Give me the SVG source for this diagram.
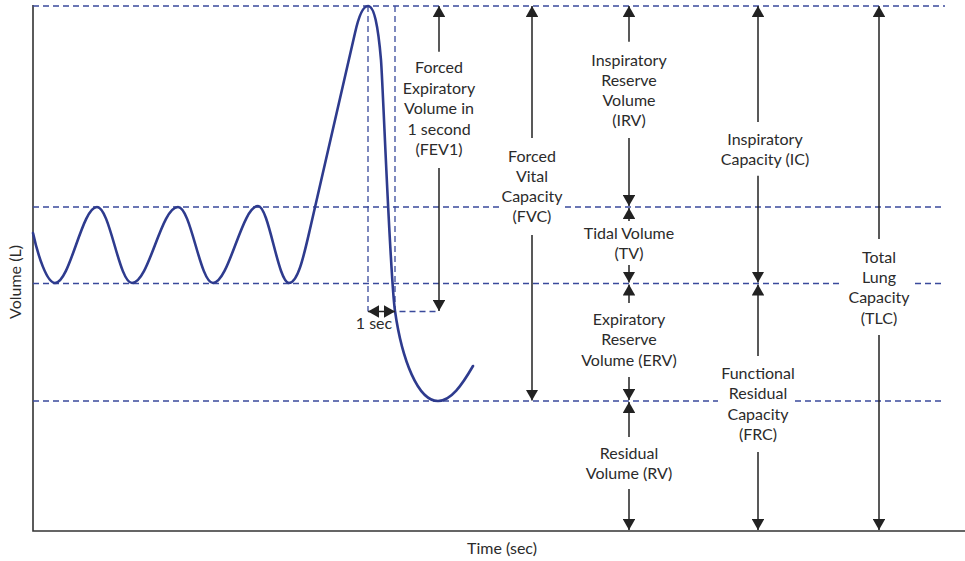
<svg xmlns="http://www.w3.org/2000/svg" width="965" height="561" viewBox="0 0 965 561">
<style>
  .dash { stroke: #3a4a9c; stroke-width: 1.3; stroke-dasharray: 6 4; fill: none; }
  .arr { stroke: #222; stroke-width: 1.5; fill: none; marker-end: url(#ah); }
  .axis { stroke: #333; stroke-width: 1.6; fill: none; }
  .curve { stroke: #2e3b8e; stroke-width: 2.6; fill: none; stroke-linecap: round; stroke-linejoin: round; }
  text { font-family: Lato, "Open Sans", "Liberation Sans", sans-serif; font-size: 16px; fill: #2b2b2b; text-anchor: middle; }
</style>
<defs>
  <marker id="ah" viewBox="0 0 11 12.6" refX="11" refY="6.3" markerWidth="11" markerHeight="12.6" markerUnits="userSpaceOnUse" orient="auto-start-reverse">
    <path d="M0,0 L11,6.3 L0,12.6 z" fill="#222"/>
  </marker>
</defs>

<g id="axes">
  <path class="axis" d="M33,5 L33,531 L965,531"/>
  <text x="502" y="554">Time (sec)</text>
  <text transform="translate(21,282) rotate(-90)">Volume (L)</text>
</g>

<g id="gridlines">
  <path class="dash" d="M33,6 H945"/>
  <path class="dash" d="M33,207 H500 M565,207 H945"/>
  <path class="dash" d="M33,283.5 H843 M915,283.5 H945"/>
  <path class="dash" d="M33,401 H718 M795,401 H945"/>
  <path class="dash" d="M368,6 V311.5"/>
  <path class="dash" d="M395,6 V311.5 H439"/>
</g>

<g id="spirogram">
  <path class="curve" d="M33,233 C38,256 47,283 55,283 C70,283 82,207 97,207 C110,207 119,283 132,283 C149,283 161,207 178,207 C191,207 200,283 213,283 C229,283 242,206 258,206 C269,206 278,283 289,283 C298,283 304,255 310,229 C325,164 340,98 355,33 C359,15 363,6 368,6 C374,6 378,25 381,60 C383,85 390,276 395,311 C402,360 418,401 438,401 C451,401 462,385 473,366"/>
</g>

<g id="connectors">
  <line class="arr" x1="439" y1="51.7" x2="439" y2="6"/>
  <line class="arr" x1="439" y1="168" x2="439" y2="311"/>
  <line class="arr" x1="532" y1="138" x2="532" y2="6"/>
  <line class="arr" x1="532" y1="235" x2="532" y2="400.5"/>
  <line class="arr" x1="629" y1="41.7" x2="629" y2="6"/>
  <line class="arr" x1="629" y1="138" x2="629" y2="206"/>
  <line class="arr" x1="629" y1="221" x2="629" y2="208"/>
  <line class="arr" x1="629" y1="265" x2="629" y2="282.5"/>
  <line class="arr" x1="629" y1="303" x2="629" y2="284.5"/>
  <line class="arr" x1="629" y1="377" x2="629" y2="400"/>
  <line class="arr" x1="629" y1="437" x2="629" y2="402"/>
  <line class="arr" x1="629" y1="489" x2="629" y2="530"/>
  <line class="arr" x1="758" y1="122" x2="758" y2="6"/>
  <line class="arr" x1="758" y1="175.7" x2="758" y2="282.5"/>
  <line class="arr" x1="758" y1="356" x2="758" y2="284.5"/>
  <line class="arr" x1="758" y1="452" x2="758" y2="530"/>
  <line class="arr" x1="879" y1="239" x2="879" y2="6"/>
  <line class="arr" x1="879" y1="335" x2="879" y2="530"/>
  <line x1="368" y1="311.5" x2="395" y2="311.5" stroke="#222" stroke-width="1.5" marker-start="url(#ah)" marker-end="url(#ah)"/>
</g>

<g id="label-fev1">
  <text x="439" y="73">Forced</text>
  <text x="439" y="93.5">Expiratory</text>
  <text x="439" y="114">Volume in</text>
  <text x="439" y="134.5">1 second</text>
  <text x="439" y="155">(FEV1)</text>
</g>
<g id="label-1sec">
  <text x="374" y="329">1 sec</text>
</g>
<g id="label-fvc">
  <text x="532" y="161.5">Forced</text>
  <text x="532" y="181.8">Vital</text>
  <text x="532" y="202">Capacity</text>
  <text x="532" y="222.3">(FVC)</text>
</g>
<g id="label-irv">
  <text x="629" y="65.5">Inspiratory</text>
  <text x="629" y="85.8">Reserve</text>
  <text x="629" y="106.1">Volume</text>
  <text x="629" y="126.4">(IRV)</text>
</g>
<g id="label-tv">
  <text x="629" y="238.5">Tidal Volume</text>
  <text x="629" y="259">(TV)</text>
</g>
<g id="label-erv">
  <text x="629" y="324.5">Expiratory</text>
  <text x="629" y="345">Reserve</text>
  <text x="629" y="365.5">Volume (ERV)</text>
</g>
<g id="label-rv">
  <text x="629" y="459">Residual</text>
  <text x="629" y="479">Volume (RV)</text>
</g>
<g id="label-ic">
  <text x="765" y="145">Inspiratory</text>
  <text x="765" y="165">Capacity (IC)</text>
</g>
<g id="label-frc">
  <text x="758" y="379">Functional</text>
  <text x="758" y="399.3">Residual</text>
  <text x="758" y="419.6">Capacity</text>
  <text x="758" y="440">(FRC)</text>
</g>
<g id="label-tlc">
  <text x="879" y="262.5">Total</text>
  <text x="879" y="283">Lung</text>
  <text x="879" y="303.3">Capacity</text>
  <text x="879" y="324">(TLC)</text>
</g>
</svg>
